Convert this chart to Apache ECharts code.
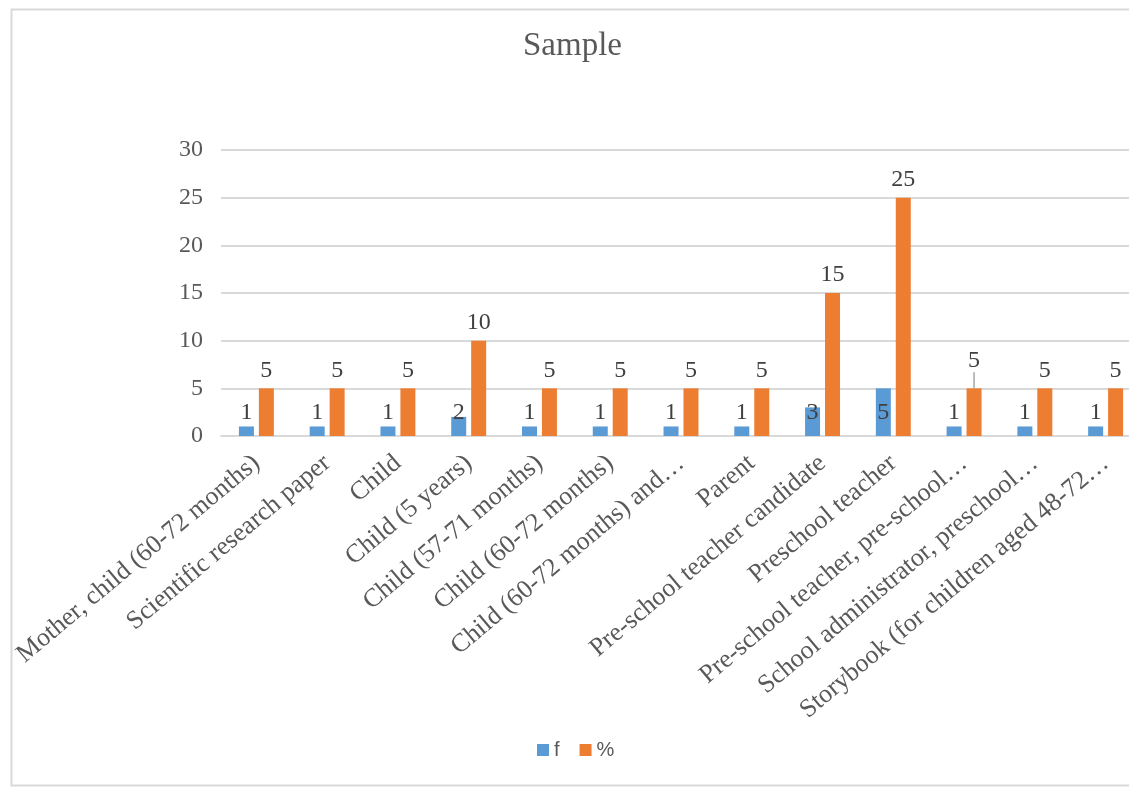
<!DOCTYPE html>
<html>
<head>
<meta charset="utf-8">
<script src="https://cdn.jsdelivr.net/npm/echarts@6/dist/echarts.min.js"></script>
<style>
  html, body { margin: 0; padding: 0; background: #fff; overflow: hidden; }
  #chart { width: 1145px; height: 787px; }
</style>
</head>
<body>
<div id="chart"></div>
<script>
// Sample composition: counts (f) and shares (%) per sample type
const categories = [
  'Mother, child (60-72 months)',
  'Scientific research paper',
  'Child',
  'Child (5 years)',
  'Child (57-71 months)',
  'Child (60-72 months)',
  'Child (60-72 months) and\u2026',
  'Parent',
  'Pre-school teacher candidate',
  'Preschool teacher',
  'Pre-school teacher, pre-school\u2026',
  'School administrator, preschool\u2026',
  'Storybook (for children aged 48-72\u2026'
];
const fValues = [1, 1, 1, 2, 1, 1, 1, 1, 3, 5, 1, 1, 1];
const pctValues = [5, 5, 5, 10, 5, 5, 5, 5, 15, 25, 5, 5, 5];
const yTicks = { min: 0, max: 30, interval: 5 };

const serif = '"Liberation Serif", "Times New Roman", serif';
const textGray = '#595959';
const gridGray = '#d9d9d9';

// index of the % label that is lifted with a leader line
const leaderIndex = 10;

const chart = echarts.init(document.getElementById('chart'), null, { renderer: 'canvas' });

chart.setOption({
  backgroundColor: '#ffffff',
  animation: false,
  title: {
    text: 'Sample',
    left: 'center',
    top: 25,
    textStyle: { fontFamily: serif, fontSize: 33, fontWeight: 'normal', color: textGray }
  },
  graphic: [{
    type: 'rect',
    left: 9, top: 7,
    shape: { width: 1160, height: 776 },
    style: { fill: 'none', stroke: gridGray, lineWidth: 2 },
    silent: true
  }],
  legend: {
    bottom: 22,
    left: 532,
    itemWidth: 12,
    itemHeight: 12,
    itemGap: 20,
    icon: 'rect',
    textStyle: { fontFamily: '"Liberation Sans", Arial, sans-serif', fontSize: 20, color: textGray }
  },
  grid: { left: 221, right: 4, top: 150, bottom: 351, containLabel: false },
  xAxis: {
    type: 'category',
    data: categories,
    axisLine: { show: true, lineStyle: { color: gridGray, width: 2 } },
    axisTick: { show: false },
    axisLabel: {
      interval: 0,
      rotate: 40,
      margin: 24,
      fontFamily: serif,
      fontSize: 26,
      color: textGray
    }
  },
  yAxis: {
    type: 'value',
    min: yTicks.min,
    max: yTicks.max,
    interval: yTicks.interval,
    axisLine: { show: false },
    axisTick: { show: false },
    splitLine: { lineStyle: { color: gridGray, width: 2 } },
    axisLabel: { fontFamily: serif, fontSize: 24, color: textGray, margin: 18 }
  },
  series: [
    {
      name: 'f',
      type: 'bar',
      data: fValues,
      barWidth: 15,
      barGap: '33%',
      itemStyle: { color: '#5b9bd5' },
      label: {
        show: true,
        position: 'insideBottom',
        distance: 11,
        fontFamily: serif,
        fontSize: 24,
        color: '#404040'
      }
    },
    {
      name: '%',
      type: 'bar',
      data: pctValues.map((v, i) => (i === leaderIndex ? { value: v, labelLine: { show: true } } : v)),
      barWidth: 15,
      itemStyle: { color: '#ed7d31' },
      label: {
        show: true,
        position: 'top',
        distance: 6,
        fontFamily: serif,
        fontSize: 24,
        color: '#404040'
      },
      labelLine: { show: false, lineStyle: { color: '#a6a6a6', width: 1.5 } },
      labelLayout: function (p) {
        return p.dataIndex === leaderIndex ? { dy: -10 } : {};
      }
    }
  ]
});
</script>
</body>
</html>
